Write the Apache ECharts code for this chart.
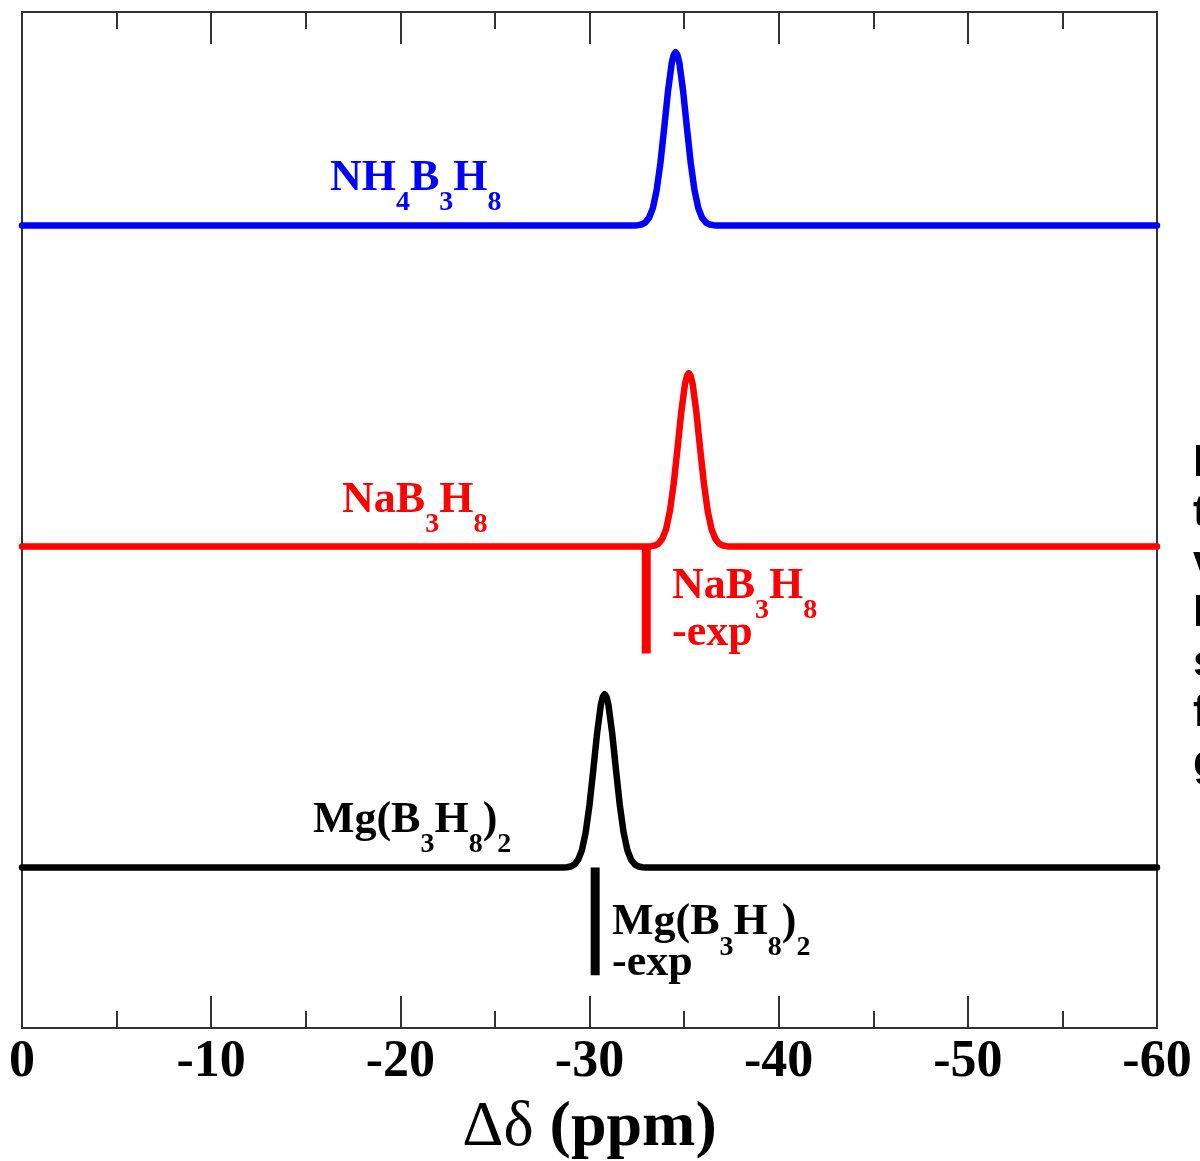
<!DOCTYPE html>
<html>
<head>
<meta charset="utf-8">
<script src="https://cdn.jsdelivr.net/npm/echarts@6/dist/echarts.min.js"></script>
<style>
  html, body { margin: 0; padding: 0; background: #ffffff; overflow: hidden; }
  #chart { width: 1200px; height: 1161px; }
</style>
</head>
<body>
<div id="chart"></div>
<script>
// Chemical shift ticks (ppm), drawn from 0 on the left to -60 on the right
const shiftTicks = [0, -10, -20, -30, -40, -50, -60];

// Stacked simulated 11B spectra (offset intensities, arbitrary units)
const nh4Shift = [0, -32.35, -32.55, -32.75, -32.95, -33.15, -33.35, -33.55, -33.75, -33.95, -34.15, -34.35,
  -34.45, -34.55, -34.65,
  -34.75, -34.95, -35.15, -35.35, -35.55, -35.75, -35.95, -36.15, -36.35, -36.55, -36.75, -60];
const nh4Intensity = [2.5, 2.5, 2.501, 2.503, 2.509, 2.524, 2.554, 2.61, 2.695, 2.804, 2.918, 3.007,
  3.031, 3.04, 3.031,
  3.007, 2.918, 2.804, 2.695, 2.61, 2.554, 2.524, 2.509, 2.503, 2.501, 2.5, 2.5];

const naShift = [0, -33.05, -33.25, -33.45, -33.65, -33.85, -34.05, -34.25, -34.45, -34.65, -34.85, -35.05,
  -35.15, -35.25, -35.35,
  -35.45, -35.65, -35.85, -36.05, -36.25, -36.45, -36.65, -36.85, -37.05, -37.25, -37.45, -60];
const naIntensity = [1.5, 1.5, 1.501, 1.503, 1.509, 1.524, 1.554, 1.61, 1.695, 1.804, 1.918, 2.007,
  2.031, 2.04, 2.031,
  2.007, 1.918, 1.804, 1.695, 1.61, 1.554, 1.524, 1.509, 1.503, 1.501, 1.5, 1.5];

const mgShift = [0, -28.6, -28.8, -29.0, -29.2, -29.4, -29.6, -29.8, -30.0, -30.2, -30.4, -30.6,
  -30.7, -30.8, -30.9,
  -31.0, -31.2, -31.4, -31.6, -31.8, -32.0, -32.2, -32.4, -32.6, -32.8, -33.0, -60];
const mgIntensity = [0.5, 0.5, 0.501, 0.503, 0.509, 0.524, 0.554, 0.61, 0.695, 0.804, 0.918, 1.007,
  1.031, 1.04, 1.031,
  1.007, 0.918, 0.804, 0.695, 0.61, 0.554, 0.524, 0.509, 0.503, 0.501, 0.5, 0.5];

// Experimental shifts, drawn as sticks hanging below each baseline
const naExpShift = [-33.0, -33.0];
const naExpIntensity = [1.5, 1.167];
const mgExpShift = [-30.3, -30.3];
const mgExpIntensity = [0.5, 0.164];

const yTop = 3.165;

const SERIF = "'Liberation Serif', 'Times New Roman', serif";
const BLUE = '#0000ff', RED = '#ff0000', BLACK = '#000000';

function pairs(xs, ys) { return xs.map((x, i) => [x, ys[i]]); }

const chart = echarts.init(document.getElementById('chart'), null, { renderer: 'canvas' });

function tickAxis(position, showLabels) {
  return {
    type: 'value',
    position: position,
    min: shiftTicks[shiftTicks.length - 1],
    max: shiftTicks[0],
    interval: 10,
    inverse: true,
    axisLine: { show: false },
    axisTick: { show: true, inside: true, length: 32, lineStyle: { color: '#333333', width: 2 } },
    minorTick: { show: true, splitNumber: 2, length: 17, lineStyle: { color: '#333333', width: 2 } },
    splitLine: { show: false },
    minorSplitLine: { show: false },
    axisLabel: showLabels ? {
      show: true,
      margin: 9,
      fontFamily: SERIF,
      fontWeight: 'bold',
      fontSize: 52,
      color: '#000000',
      hideOverlap: false,
      showMinLabel: true,
      showMaxLabel: true,
      formatter: v => String(v)
    } : { show: false },
    name: showLabels ? '{g|Δδ}{b| (ppm)}' : '',
    nameLocation: 'middle',
    nameGap: 68,
    nameMoveOverlap: false,
    nameTextStyle: {
      rich: {
        g: { fontFamily: SERIF, fontSize: 64, fontWeight: 'normal', color: '#000000', lineHeight: 64 },
        b: { fontFamily: SERIF, fontSize: 64, fontWeight: 'bold', color: '#000000', lineHeight: 64 }
      }
    }
  };
}

function curve(name, xs, ys, color) {
  return {
    name: name,
    type: 'line',
    data: pairs(xs, ys),
    showSymbol: false,
    symbol: 'none',
    smooth: false,
    lineStyle: { color: color, width: 6.5, cap: 'round', join: 'round' },
    z: 3,
    silent: true,
    animation: false
  };
}

function stick(name, xs, ys, color) {
  return {
    name: name,
    type: 'line',
    data: pairs(xs, ys),
    showSymbol: false,
    symbol: 'none',
    lineStyle: { color: color, width: 9, cap: 'butt' },
    z: 2,
    silent: true,
    animation: false
  };
}

chart.setOption({
  animation: false,
  backgroundColor: '#ffffff',
  grid: {
    left: 22, right: 43, top: 12, bottom: 133,
    containLabel: false,
    outerBoundsMode: 'none',
    show: true,
    borderColor: '#333333',
    borderWidth: 2,
    backgroundColor: 'transparent'
  },
  xAxis: [tickAxis('bottom', true), tickAxis('top', false)],
  yAxis: {
    type: 'value', min: 0, max: yTop, show: false,
    splitLine: { show: false }
  },
  series: [
    curve('NH4B3H8', nh4Shift, nh4Intensity, BLUE),
    curve('NaB3H8', naShift, naIntensity, RED),
    curve('Mg(B3H8)2', mgShift, mgIntensity, BLACK),
    stick('NaB3H8-exp', naExpShift, naExpIntensity, RED),
    stick('Mg(B3H8)2-exp', mgExpShift, mgExpIntensity, BLACK)
  ]
});

// Compound labels: anchor = [shift, baseline intensity] of the first text line
const labelSpecs = [
  { text: '{m|NH}{s|4}{m|B}{s|3}{m|H}{s|8}', anchor: [-16.28, 2.601], color: BLUE, lh: 44 },
  { text: '{m|NaB}{s|3}{m|H}{s|8}', anchor: [-16.92, 1.598], color: RED, lh: 44 },
  { text: '{m|Mg(B}{s|3}{m|H}{s|8}{m|)}{s|2}', anchor: [-15.38, 0.601], color: BLACK, lh: 44 },
  { text: '{m|NaB}{s|3}{m|H}{s|8}\n{m|-exp}', anchor: [-34.36, 1.330], color: RED, lh: 47 },
  { text: '{m|Mg(B}{s|3}{m|H}{s|8}{m|)}{s|2}\n{m|-exp}', anchor: [-31.19, 0.283], color: BLACK, lh: 41 }
];

const MAIN_SIZE = 44, SUB_SIZE = 28, SUB_DROP = 50;

function placeLabels() {
  const elements = labelSpecs.map(spec => {
    const p = chart.convertToPixel({ gridIndex: 0 }, spec.anchor);
    const baselineOffset = spec.lh / 2 + 0.3375 * MAIN_SIZE;
    return {
      type: 'text',
      x: p[0],
      y: p[1] - baselineOffset,
      silent: true,
      z: 10,
      style: {
        text: spec.text,
        align: 'left',
        verticalAlign: 'top',
        fill: spec.color,
        font: 'bold ' + MAIN_SIZE + 'px ' + SERIF,
        rich: {
          m: { fill: spec.color, fontFamily: SERIF, fontWeight: 'bold', fontSize: MAIN_SIZE, lineHeight: spec.lh },
          s: { fill: spec.color, fontFamily: SERIF, fontWeight: 'bold', fontSize: SUB_SIZE, lineHeight: spec.lh,
               padding: [SUB_DROP, 0, 0, 0] }
        }
      }
    };
  });

  // Start of the neighbouring caption text at the right edge of the page
  elements.push({
    type: 'text',
    x: 1193,
    y: 439,
    silent: true,
    style: {
      text: 'F\nt\nv\nF\ns\nf\ng',
      align: 'left',
      verticalAlign: 'top',
      fill: '#000000',
      font: 'bold 45px "Liberation Sans", Arial, sans-serif',
      lineHeight: 50
    }
  });

  chart.setOption({ graphic: { elements: elements } });
}

placeLabels();
</script>
</body>
</html>
